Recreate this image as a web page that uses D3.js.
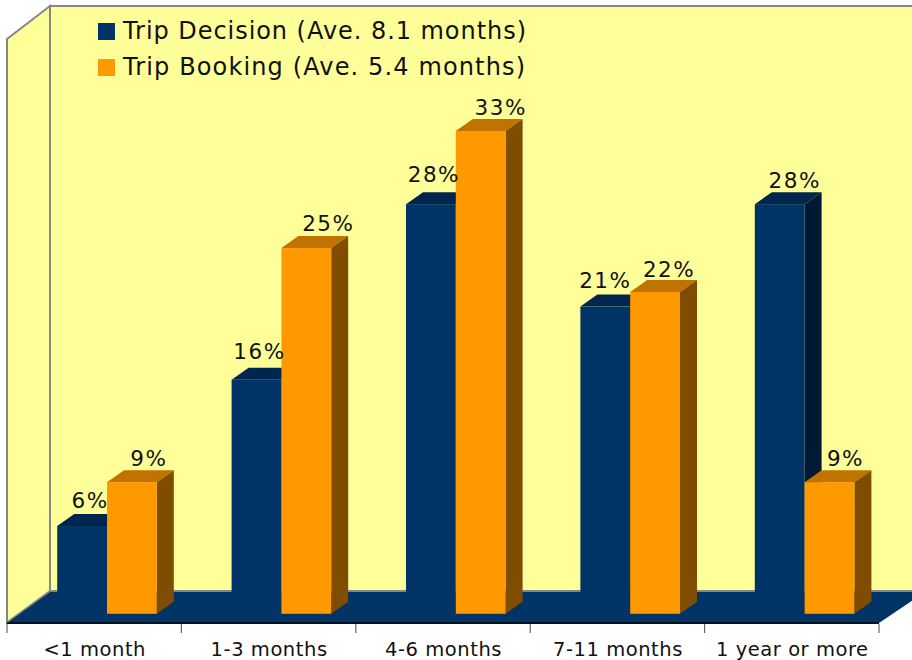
<!DOCTYPE html>
<html><head><meta charset="utf-8">
<script src="https://cdn.jsdelivr.net/npm/d3@7"></script>
<style>html,body{margin:0;padding:0;background:#fff}svg{display:block}text{font-family:"DejaVu Sans",Verdana,sans-serif;fill:#111}</style>
</head><body><svg id="c" width="912" height="660"></svg>
<script>
const categories = ["<1 month","1-3 months","4-6 months","7-11 months","1 year or more"];
const seriesNames = ["Trip Decision (Ave. 8.1 months)","Trip Booking (Ave. 5.4 months)"];
const tripDecision = [6,16,28,21,28];
const tripBooking = [9,25,33,22,9];
const faceColors = ["#003366","#ff9900"];
const topColors = ["#002650","#c07300"];
const sideColors = ["#001a33","#804d00"];

const labelDx = [[8,3,3,0,15],[17,22,20,14,16]];
const labelDy = [[18,21,22,19,16],[16,17,16,15,16]];
const legendWidths = [403,402];

const svg = d3.select("#c");
const depthX = 17, depthY = 12;
const floorFrontY = 622.5, floorBackY = 591, wallLeft = 50, wallTop = 6, frontLeft = 7, frontTopY = 39;

const x0 = d3.scaleBand().domain(categories).range([7,879]);
const x1 = d3.scaleBand().domain([0,1]).range([50.2,149.8]);
const y = d3.scaleLinear().domain([0,33]).range([613.8,131]);

const poly = (pts,fill,stroke) => svg.append("polygon").attr("points",pts.map(p=>p.join(",")).join(" "))
  .attr("fill",fill).attr("stroke",stroke||"none").attr("stroke-width",stroke?2:0);

// walls
poly([[wallLeft,wallTop],[930,wallTop],[930,floorBackY],[wallLeft,floorBackY]],"#ffff99","#868686");
poly([[frontLeft,frontTopY],[wallLeft,wallTop],[wallLeft,floorBackY],[frontLeft,floorFrontY]],"#ffff99","#868686");
// floor
poly([[frontLeft,floorFrontY+0.5],[wallLeft,floorBackY+1],[925,floorBackY+1],[879,floorFrontY+0.5]],"#003366");

// axis
const axis = d3.axisBottom(x0).tickSize(0).tickPadding(15);
const gAxis = svg.append("g").attr("transform",`translate(0.5,${floorFrontY})`).call(axis);
gAxis.select(".domain").remove();
gAxis.selectAll("text").attr("font-size",19.5).style("letter-spacing","0.55px").attr("dy",0).attr("y",33);
svg.append("line").attr("x1",7).attr("x2",879).attr("y1",623).attr("y2",623).attr("stroke","#00111f").attr("stroke-width",2);
const tickXs = x0.domain().map(c=>x0(c)).concat([x0.range()[1]]);
svg.selectAll(".tk").data(tickXs).join("line").attr("class","tk")
  .attr("x1",d=>d).attr("x2",d=>d).attr("y1",624).attr("y2",633).attr("stroke","#666").attr("stroke-width",1.2);

// bars
const series = [tripDecision,tripBooking];
categories.forEach((c,i)=>{
  series.forEach((vals,s)=>{
    const left = x0(c)+x1(s), w = x1.bandwidth(), right = left+w;
    const top = y(vals[i]), base = y(0);
    poly([[left,top],[left+depthX,top-depthY],[right+depthX,top-depthY],[right,top]],topColors[s]);
    poly([[right,top],[right+depthX,top-depthY],[right+depthX,base-depthY],[right,base]],sideColors[s]);
    svg.append("rect").attr("x",left).attr("y",top).attr("width",w).attr("height",base-top).attr("fill",faceColors[s]);
  });
});
// labels
categories.forEach((c,i)=>{
  series.forEach((vals,s)=>{
    svg.append("text").attr("x",x0(c)+x1(s)+x1.bandwidth()/2+labelDx[s][i]).attr("y",y(vals[i])-labelDy[s][i])
      .attr("text-anchor","middle").attr("font-size",21.5).style("letter-spacing","1.5px").text(vals[i]+"%");
  });
});
// legend
seriesNames.forEach((n,i)=>{
  const ly = 23+i*36;
  svg.append("rect").attr("x",98).attr("y",ly).attr("width",17).attr("height",17).attr("fill",faceColors[i]);
  svg.append("text").attr("x",123).attr("y",ly+16).attr("font-size",24)
    .attr("textLength",legendWidths[i]).attr("lengthAdjust","spacing").text(n);
});
</script></body></html>
